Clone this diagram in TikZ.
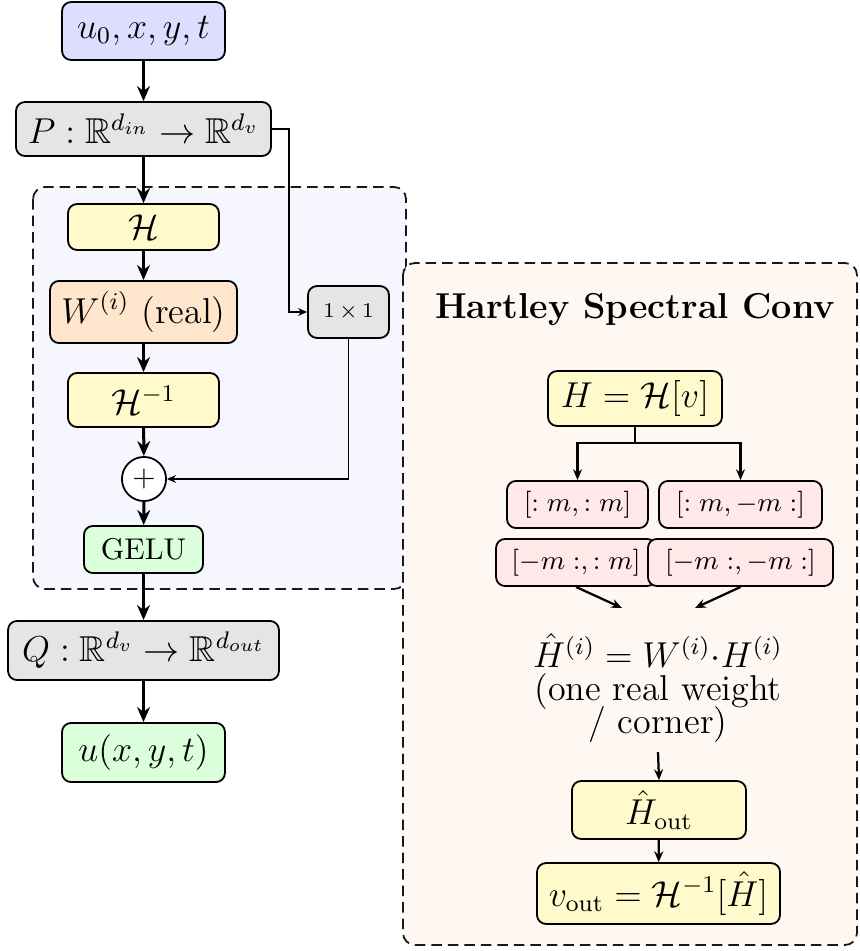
\documentclass[tikz,border=0pt]{standalone}
\usepackage{amsmath,amssymb}
\usetikzlibrary{arrows.meta}

\definecolor{inputfill}{RGB}{221,221,255}
\definecolor{linfill}{RGB}{229,229,229}
\definecolor{hfill}{RGB}{255,249,204}
\definecolor{wfill}{RGB}{255,229,204}
\definecolor{actfill}{RGB}{218,255,218}
\definecolor{cornerfill}{RGB}{255,232,232}
\definecolor{blockfill}{RGB}{246,246,255}
\definecolor{panelfill}{RGB}{255,248,242}

\tikzset{
  box/.style={draw=black, semithick, rounded corners=3pt, inner sep=1pt, align=center},
  container/.style={draw=black!90, semithick, dash pattern=on 3.5pt off 2pt, rounded corners=4pt},
  flow/.style={-{Stealth[length=5pt,width=4.3pt]}, line width=1pt},
  skip/.style={-{Stealth[length=3pt,width=2.6pt]}, line width=0.65pt},
  sub/.style={-{Stealth[length=3.6pt,width=3pt]}, line width=0.75pt},
}

\begin{document}
\begin{tikzpicture}[x=0.33333pt, y=-0.33333pt]
\useasboundingbox (0,0) rectangle (860,951);

% Fourier-layer block and the spectral-convolution panel
\path[container, fill=blockfill] (33,187) rectangle (406,589);
\path[container, fill=panelfill] (403,263) rectangle (857,945);

% main pipeline
\node[box, fill=inputfill, minimum width=54.3pt, minimum height=19.3pt, font=\large] (u0) at (143.5,31) {$u_0, x, y, t$};
\node[box, fill=linfill, minimum width=85pt, minimum height=18pt, font=\large] (P) at (143.5,129) {$P: \mathbb{R}^{d_{in}} \to \mathbb{R}^{d_v}$};
\node[box, fill=hfill, minimum width=50.3pt, minimum height=15.3pt, font=\large] (H) at (143.5,227) {$\mathcal{H}$};
\node[box, fill=wfill, minimum width=62.3pt, minimum height=20.7pt, font=\large] (W) at (143.5,312) {$W^{(i)}$ (real)};
\node[box, fill=hfill, minimum width=50.3pt, minimum height=18pt, font=\large] (Hinv) at (143.5,400) {$\mathcal{H}^{-1}$};
\node[draw=black, semithick, fill=white, circle, minimum size=14.7pt, inner sep=0pt] (plus) at (144,479) {$+$};
\node[box, fill=actfill, minimum width=39.7pt, minimum height=15.7pt] (gelu) at (143.5,549.5) {GELU};
\node[box, fill=linfill, minimum width=90.3pt, minimum height=19.7pt, font=\large] (Q) at (143.5,650.5) {$Q: \mathbb{R}^{d_v} \to \mathbb{R}^{d_{out}}$};
\node[box, fill=actfill, minimum width=54.3pt, minimum height=19.7pt, font=\large] (uout) at (143.5,752.5) {$u(x, y, t)$};
\node[box, fill=linfill, minimum width=27pt, minimum height=17.3pt, font=\scriptsize] (one) at (348.5,312) {$1\,{\times}\,1$};

% spectral convolution panel
\node[font=\large\bfseries] (title) at (635,310) {Hartley Spectral Conv};
\node[box, fill=hfill, minimum width=58pt, minimum height=18.3pt, font=\large] (Hv) at (635,398.5) {$H = \mathcal{H}[v]$};
\node[box, fill=cornerfill, minimum width=47pt, minimum height=15.7pt, font=\small] (c1) at (577.5,504.5) {$[:m, :m]$};
\node[box, fill=cornerfill, minimum width=54.3pt, minimum height=15.7pt, font=\small] (c2) at (740.5,504.5) {$[:m, -m:]$};
\node[box, fill=cornerfill, minimum width=53.3pt, minimum height=15.7pt, font=\small] (c3) at (576,562.5) {$[-m:, :m]$};
\node[box, fill=cornerfill, minimum width=61.7pt, minimum height=15.7pt, font=\small] (c4) at (740.5,562.5) {$[-m:, -m:]$};
\node[align=center, inner sep=0pt, font=\large] (mult) at (658,688)
  {$\hat{H}^{(i)} = W^{(i)}{\cdot}H^{(i)}$\\[-3pt](one real weight\\[-3pt]/ corner)};
\node[box, fill=hfill, minimum width=58pt, minimum height=19.3pt, font=\large] (hout) at (659,810) {$\hat{H}_{\text{out}}$};
\node[box, fill=hfill, minimum width=81pt, minimum height=20.3pt, font=\large] (vout) at (658.5,893.5) {$v_{\text{out}} = \mathcal{H}^{-1}[\hat{H}]$};

% main flow
\draw[flow] (u0) -- (P);
\draw[flow] (P) -- (H);
\draw[flow] (H) -- (W);
\draw[flow] (W) -- (Hinv);
\draw[flow] (Hinv) -- (plus);
\draw[flow] (plus) -- (gelu);
\draw[flow] (gelu) -- (Q);
\draw[flow] (Q) -- (uout);

% pointwise skip path
\coordinate (bend) at (289,129);
\draw[skip] (P.east) -- (bend) |- (one.west);
\draw[skip] (one.south) |- (plus.east);

% panel connectors
\coordinate (split) at (635,443);
\draw[sub] (Hv.south) -- (split) -| (c1.north);
\draw[sub] (split) -| (c2.north);
\coordinate (m1) at (622,608);
\coordinate (m2) at (695,608);
\draw[sub] (c3.south) -- (m1);
\draw[sub] (c4.south) -- (m2);
\coordinate (m0) at (658,752);
\draw[sub] (m0) -- (hout.north);
\draw[sub] (hout) -- (vout);
\end{tikzpicture}
\end{document}
